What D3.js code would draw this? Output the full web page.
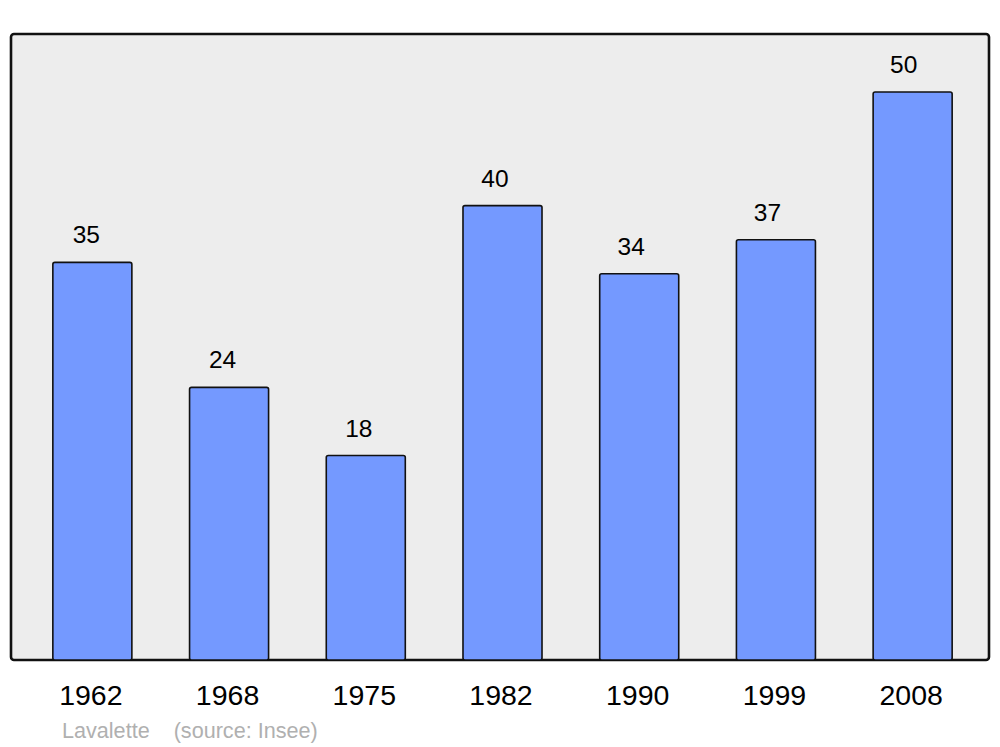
<!DOCTYPE html>
<html><head><meta charset="utf-8">
<script src="https://cdn.jsdelivr.net/npm/d3@7"></script>
<style>body{margin:0;background:#fff}svg{display:block}</style>
</head><body>
<script>
const years = ["1962","1968","1975","1982","1990","1999","2008"];
const values = [35,24,18,40,34,37,50];
const title = "Lavalette";
const source = "(source: Insee)";

const W=1000,H=747;
const svg=d3.select("body").append("svg").attr("width",W).attr("height",H);
const font="'Liberation Sans', Arial, sans-serif";
const panel={x0:11,y0:34,x1:989,y1:660};

svg.append("rect").attr("x",panel.x0).attr("y",panel.y0)
  .attr("width",panel.x1-panel.x0).attr("height",panel.y1-panel.y0)
  .attr("rx",3).attr("fill","#ededed").attr("stroke","#111").attr("stroke-width",2.6);

const x=d3.scaleBand().domain(years).range([24,981]).paddingInner(0.422).paddingOuter(0.211);
const y=d3.scaleLinear().domain([0,50]).range([660,92]);

svg.selectAll("rect.bar").data(values).join("rect").attr("class","bar")
  .attr("x",(d,i)=>x(years[i])).attr("y",d=>y(d))
  .attr("width",x.bandwidth()).attr("height",d=>y(0)-y(d))
  .attr("rx",2).attr("fill","#7499ff").attr("stroke","#111").attr("stroke-width",1.6);

svg.selectAll("text.val").data(values).join("text").attr("class","val")
  .attr("x",(d,i)=>x(years[i])+x.bandwidth()/2-6-0.5*i).attr("y",d=>y(d)-19)
  .attr("text-anchor","middle").attr("font-family",font).attr("font-size",24.5).attr("fill","#000")
  .text(d=>d);

const ax=svg.append("g").attr("transform","translate(0,660)")
  .call(d3.axisBottom(x).tickSize(0).tickPadding(0));
ax.select(".domain").remove();
ax.selectAll("text").attr("font-family",font).attr("font-size",28.5).attr("fill","#000")
  .attr("dy",null).attr("y",45).attr("dx",-1.5);

svg.append("text").attr("x",62).attr("y",738).attr("font-family",font).attr("font-size",21.6)
  .attr("fill","#b0b0b0").attr("xml:space","preserve").text(title+"    "+source);
</script>
</body></html>
